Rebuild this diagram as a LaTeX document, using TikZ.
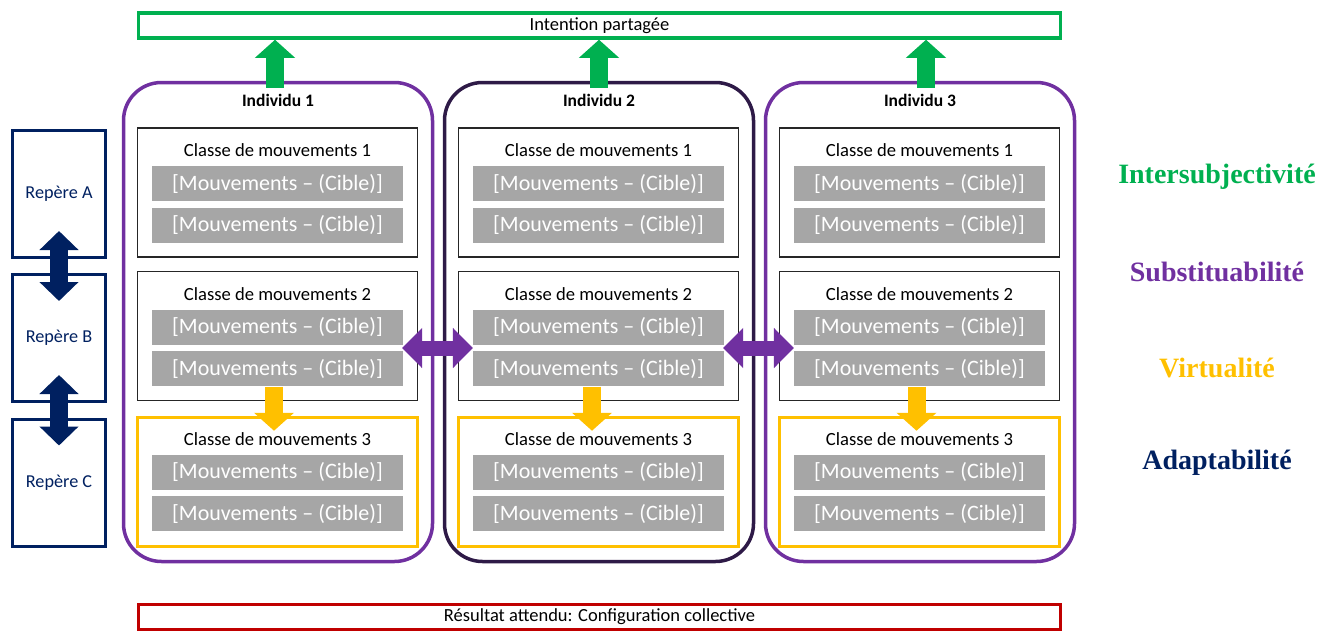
\documentclass[tikz,border=0pt]{standalone}
\usepackage{fontspec}
\setmainfont{Carlito}
\newfontfamily\qualityfont{Liberation Serif}
\usetikzlibrary{arrows.meta, positioning}

\definecolor{sharedgreen}{HTML}{00B050}
\definecolor{subpurple}{HTML}{7030A0}
\definecolor{subdark}{HTML}{2E1A47}
\definecolor{virtgold}{HTML}{FFC000}
\definecolor{adaptblue}{HTML}{002060}
\definecolor{resultred}{HTML}{C00000}
\definecolor{bargray}{HTML}{A6A6A6}

\begin{document}
\begin{tikzpicture}[
    x=1pt, y=-1pt,
    wide/.style={line width=3.5pt, minimum width=922pt, minimum height=25pt, inner sep=0pt, font=\fontsize{18.5}{21}\selectfont},
    person/.style={draw=#1, line width=3.5pt, rounded corners=38pt, minimum width=309pt, minimum height=479pt},
    personname/.style={font=\bfseries\fontsize{17.5}{20}\selectfont},
    classbox/.style={minimum width=280pt, minimum height=129pt},
    heading/.style={font=\fontsize{18.6}{21}\selectfont},
    movebar/.style={fill=bargray, text=white, minimum width=251pt, minimum height=35pt, inner sep=0pt, font=\fontsize{22}{25}\selectfont},
    markbox/.style={draw=adaptblue, line width=3pt, minimum width=93pt, minimum height=127pt, text=adaptblue, font=\fontsize{18.2}{21}\selectfont},
    quality/.style={font=\qualityfont\bfseries\fontsize{28}{32}\selectfont},
    blockup/.style={sharedgreen, line width=18pt, -{Triangle[width=39pt,length=18pt]}},
    blockdown/.style={virtgold, line width=18pt, -{Triangle[width=39pt,length=18pt]}},
    blockside/.style={subpurple, line width=15pt, {Triangle[width=39pt,length=20pt]}-{Triangle[width=39pt,length=20pt]}},
    blockvert/.style={adaptblue, line width=18pt, {Triangle[width=38pt,length=19pt]}-{Triangle[width=38pt,length=19pt]}}
]
\useasboundingbox (0,0) rectangle (1319,632);

% Shared intention and expected result
\node[wide, draw=sharedgreen] (goal) at (599.5,25.5) {Intention partagée};
\node[wide, draw=resultred] (result) at (599.5,617) {Résultat attendu: Configuration collective};

% Landmarks
\node[markbox] (repA) at (59,194) {Repère A};
\node[markbox] (repB) at (59,338) {Repère B};
\node[markbox] (repC) at (59,482.5) {Repère C};
\draw[blockvert] ([yshift=28pt]repA.south) -- ([yshift=-28pt]repB.north);
\draw[blockvert] ([yshift=28pt]repB.south) -- ([yshift=-28pt]repC.north);

% Individuals and their classes of movements
\foreach \col/\xo/\pc/\gx/\ox in {1/0/subpurple/-3/-3.5, 2/321/subdark/0/-6.5, 3/642/subpurple/6/-3} {
  \node[person=\pc] (ind\col) at (278+\xo,322) {};
  \node[personname] at ([yshift=-20pt]ind\col.north) {Individu \col};
  \foreach \k/\yc/\bc/\lw in {1/192.5/black!85/1.2pt, 2/336/black!85/1.2pt, 3/482/virtgold/3.5pt} {
    \node[classbox, draw=\bc, line width=\lw] (cl\col\k) at (277.5+\xo,\yc) {};
    \node[heading] at ([yshift=-23pt]cl\col\k.north) {Classe de mouvements \k};
    \node[movebar] (top\col\k) at ([yshift=-56.5pt]cl\col\k.north) {[Mouvements – (Cible)]};
    \node[movebar, below=6pt of top\col\k] (low\col\k) {[Mouvements – (Cible)]};
  }
  \draw[blockdown] ([xshift=\ox pt]low\col2.south) -- ([xshift=\ox pt,yshift=-15pt]cl\col3.north);
  \draw[blockup] ([xshift=\gx pt,yshift=-7pt]ind\col.north) -- ([xshift=\gx pt]goal.south -| ind\col.north);
}

% Substitution between individuals
\draw[blockside] ([xshift=-16pt,yshift=-12pt]cl12.east) -- ([xshift=15pt,yshift=-12pt]cl22.west);
\draw[blockside] ([xshift=-16pt,yshift=-12pt]cl22.east) -- ([xshift=15pt,yshift=-12pt]cl32.west);

% Qualities
\node[quality, text=sharedgreen] (inter) at (1217,177) {Intersubjectivité};
\node[quality, text=subpurple] (subst) at (1217,272) {Substituabilité};
\node[quality, text=virtgold] (virt) at (1217,368) {Virtualité};
\node[quality, text=adaptblue] (adapt) at (1217,463) {Adaptabilité};

\end{tikzpicture}
\end{document}
